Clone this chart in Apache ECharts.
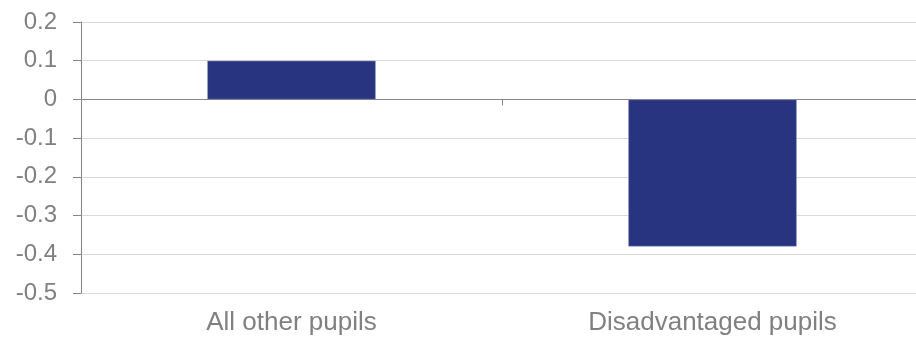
<!DOCTYPE html>
<html>
<head>
<meta charset="utf-8">
<script src="https://cdn.jsdelivr.net/npm/echarts@6/dist/echarts.min.js"></script>
<style>html,body{margin:0;padding:0;background:#fff;overflow:hidden;}#c{width:923px;height:338px;}</style>
</head>
<body>
<div id="c"></div>
<script>
const categories = ["All other pupils", "Disadvantaged pupils"];
const values = [0.1, -0.38];
const yMin = -0.5, yMax = 0.2, yStep = 0.1;

const chart = echarts.init(document.getElementById('c'));
const textColor = '#808080';
const font = '"Liberation Sans", Arial, sans-serif';
chart.setOption({
  animation: false,
  grid: { left: 81, right: 0, top: 22, bottom: 45, containLabel: false },
  xAxis: [
    {
      type: 'category', data: categories,
      axisLine: { onZero: true, lineStyle: { color: '#868686', width: 1 } },
      axisTick: { show: true, length: 6, lineStyle: { color: '#868686' } },
      axisLabel: { show: false }
    },
    {
      type: 'category', data: categories, position: 'bottom',
      axisLine: { show: false, onZero: false },
      axisTick: { show: false },
      axisLabel: { color: textColor, fontSize: 26, fontFamily: font, margin: 17 }
    }
  ],
  yAxis: {
    type: 'value', min: yMin, max: yMax, interval: yStep,
    axisLine: { show: true, lineStyle: { color: '#868686' } },
    axisTick: { show: true, inside: false, length: 8, lineStyle: { color: '#868686' } },
    splitLine: { show: true, lineStyle: { color: '#d9d9d9' } },
    axisLabel: {
      color: textColor, fontSize: 24, fontFamily: font, margin: 24,
      formatter: v => String(Math.round(v * 10) / 10)
    }
  },
  series: [{
    type: 'bar', xAxisIndex: 0, data: values, barWidth: '40%',
    itemStyle: { color: '#283480', borderColor: '#9aa0c0', borderWidth: 0.5 }
  }]
});
</script>
</body>
</html>
